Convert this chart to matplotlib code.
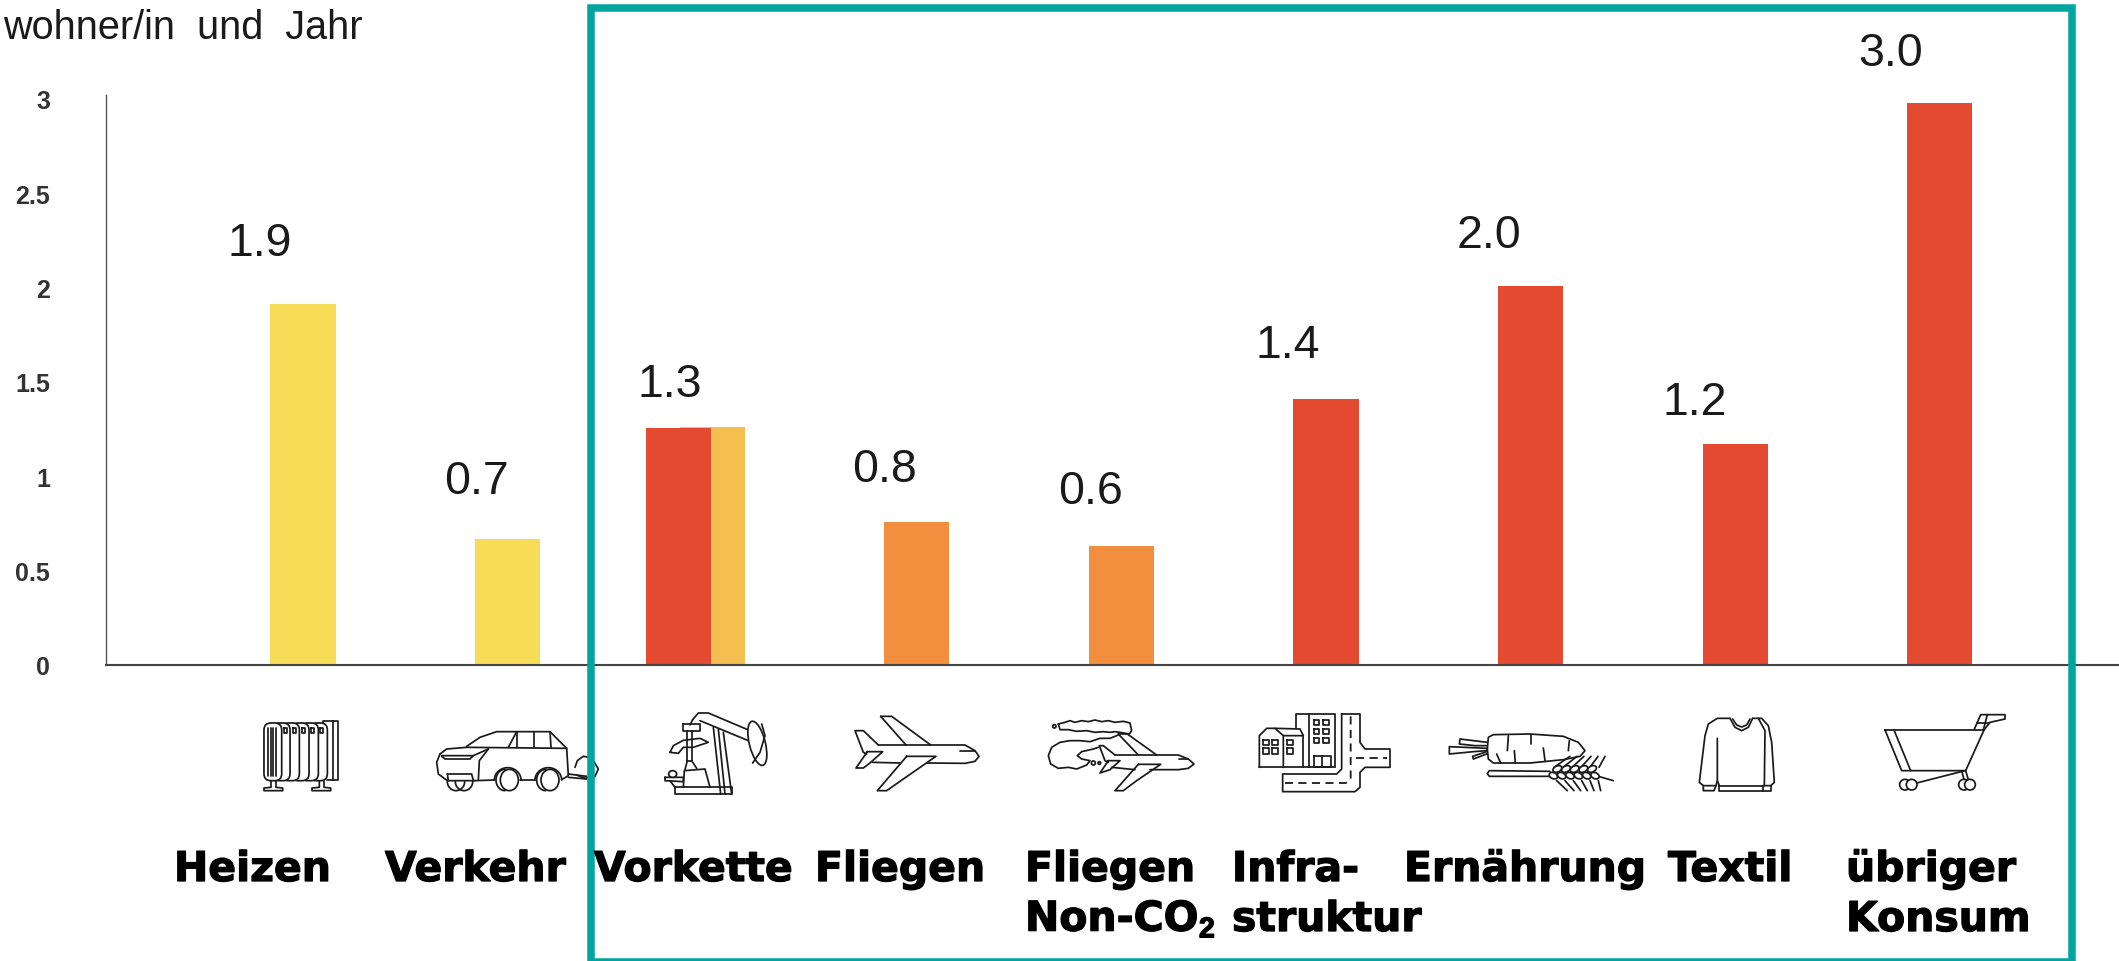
#!/usr/bin/env python3
# -*- coding: utf-8 -*-

import matplotlib
matplotlib.use("Agg")
import matplotlib.patheffects as pe
import matplotlib.pyplot as plt
import numpy as np
from matplotlib.patches import Ellipse, FancyBboxPatch, Rectangle

W, H = 2119, 962

CATEGORIES = ["Heizen", "Verkehr", "Vorkette", "Fliegen", "Fliegen\nNon-CO$_{\\mathbf{2}}$",
              "Infra-\nstruktur", "Ern\u00e4hrung", "Textil", "\u00fcbriger\nKonsum"]
BAR_POS = [0, 1, 2, 1.834, 3, 4, 5, 6, 7, 8]
BAR_VALUES = [1.915, 0.67, 1.262, 1.256, 0.76, 0.63, 1.41, 2.01, 1.17, 2.98]
BAR_COLORS = ["#F6DC57", "#F6DC57", "#F4BE50", "#E34A30", "#F18F3F", "#F18F3F",
              "#E34A30", "#E34A30", "#E34A30", "#E34A30"]
VALUE_LABELS = ["1.9", "0.7", "1.3", "0.8", "0.6", "1.4", "2.0", "1.2", "3.0"]
Y_TICKS = [0, 0.5, 1, 1.5, 2, 2.5, 3]
Y_TICK_LABELS = ["0", "0.5", "1", "1.5", "2", "2.5", "3"]

# placement in reference pixels
VALUE_XY = [(260, 244), (476, 482), (670, 385), (885, 470), (1091, 492),
            (1288, 346), (1489, 236), (1695, 403), (1891, 54)]
LABEL_X = [174, 385, 594, 815, 1025, 1232, 1404, 1668, 1846]

TEAL = "#00A5A0"
INK = "#1a1a1a"


def stroke(ov, x0, lines, lw=1.25, ls="-"):
    # icon points are in 3x crop coordinates, y crop starts at 700
    for pts in lines:
        xs = [x0 + p[0] / 3 for p in pts]
        ys = [700 + p[1] / 3 for p in pts]
        ov.plot(xs, ys, color=INK, lw=lw, ls=ls, solid_capstyle="round", solid_joinstyle="round", zorder=3)


def oval(ov, x0, cx, cy, rx, ry, angle=0, z=3):
    ov.add_patch(Ellipse((x0 + cx / 3, 700 + cy / 3), 2 * rx / 3, 2 * ry / 3, angle=angle,
                         fc="white", ec=INK, lw=1.25, zorder=z))


def arc(cx, cy, rx, ry, t0, t1):
    t = np.radians(np.linspace(t0, t1, 24))
    return list(zip(cx + rx * np.cos(t), cy + ry * np.sin(t)))


def boxes(items, w, h):
    return [[(x, y), (x + w, y), (x + w, y + h), (x, y + h), (x, y)] for x, y in items]


def radiator(ov):
    x0 = 240
    stroke(ov, x0, [[(250, 72), (250, 65), (293, 65), (293, 243), (262, 243)], [(278, 65), (278, 243)]])
    for right in [262, 235, 207, 178, 150, 125]:
        ov.add_patch(FancyBboxPatch((x0 + (right - 45) / 3, 700 + 80 / 3), 37 / 3, 157 / 3,
                                    boxstyle="round,pad=2.7,rounding_size=7", fc="white", ec=INK, lw=1.25, zorder=3))
    stroke(ov, x0, [[(x, 88), (x, 230)] for x in (85, 92, 100, 107)])
    stroke(ov, x0, boxes([(133, 88), (160, 88), (187, 88), (214, 88), (240, 88)], 9, 13))
    stroke(ov, x0, [[(93, 246), (93, 265), (72, 267), (72, 275), (128, 275), (128, 267), (108, 265), (108, 246)],
                    [(238, 246), (238, 265), (216, 267), (216, 275), (272, 275), (272, 267), (252, 265), (252, 246)]])


def car(ov):
    x0 = 240
    cloud = [(1005, 205), (1012, 185), (1030, 172), (1048, 175), (1060, 185), (1075, 210), (1065, 232),
             (1035, 238), (1010, 228)]
    stroke(ov, x0, [cloud, [(985, 225), (1040, 232)], [(985, 235), (1040, 240)]])
    stroke(ov, x0, [
        [(680, 142), (720, 115), (770, 98), (930, 98), (980, 148), (985, 230), (965, 242)],
        [(600, 165), (620, 150), (680, 145), (980, 148)],
        [(600, 165), (590, 190), (595, 225), (622, 245), (705, 245)],
        [(805, 145), (830, 98)], [(832, 98), (832, 145)], [(882, 98), (882, 145)], [(930, 98), (933, 145)],
        [(605, 172), (615, 180), (690, 180), (700, 170), (605, 170)],
        [(700, 170), (745, 150)], [(745, 150), (718, 185), (715, 243)],
        [(622, 225), (695, 225), (700, 245)], [(622, 225), (625, 245)],
        [(840, 243), (885, 243)], [(705, 245), (765, 243)],
    ])
    stroke(ov, x0, [arc(648, 248, 26, 27, 0, 180), arc(672, 248, 26, 27, 0, 180),
                    arc(803, 243, 40, 37, 180, 360), arc(795, 243, 27, 32, 90, 270),
                    arc(925, 243, 40, 37, 180, 360), arc(917, 243, 27, 32, 90, 270)])
    oval(ov, x0, 808, 243, 27, 32)
    oval(ov, x0, 930, 243, 27, 32)


def pumpjack(ov):
    x0 = 650
    stroke(ov, x0, [
        [(190, 85), (212, 285)], [(205, 90), (225, 285)], [(220, 100), (245, 285)],
        [(75, 265), (245, 265), (245, 285), (75, 285), (75, 265)],
        [(100, 265), (103, 215), (165, 210), (180, 265)],
        [(60, 160), (70, 140), (100, 124), (150, 118), (175, 130), (130, 145), (100, 145), (85, 163), (60, 160)],
        [(112, 185), (105, 212)], [(125, 185), (140, 208)],
        [(45, 235), (100, 235), (100, 248), (45, 245), (45, 235)], [(75, 265), (60, 245)],
        [(128, 62), (145, 42), (175, 42), (312, 100)], [(150, 65), (300, 127)], [(128, 62), (120, 78)],
    ])
    oval(ov, x0, 68, 225, 12, 10)
    stroke(ov, x0, boxes([(98, 75)], 52, 20))
    stroke(ov, x0, [[(112, 95), (112, 185)], [(125, 95), (125, 185)], [(112, 185), (125, 185)]])
    oval(ov, x0, 322, 133, 24, 68, angle=-14)
    stroke(ov, x0, [[(335, 75), (345, 110), (330, 160), (308, 192)]])


PLANE = [
    [(685, 138), (945, 138), (975, 155), (987, 172), (975, 187), (945, 193), (830, 192)],
    [(685, 138), (640, 95), (615, 95), (640, 160), (650, 165)],
    [(652, 158), (698, 158), (660, 192), (640, 207), (618, 207), (652, 158)],
    [(668, 190), (750, 192)],
    [(770, 172), (858, 172), (760, 240), (710, 275), (682, 275), (770, 172)],
    [(692, 52), (725, 52), (842, 138)], [(692, 52), (768, 138)],
    [(930, 155), (975, 155)],
]


def plane(ov):
    stroke(ov, 650, PLANE)


def plane_cloud(ov):
    x0 = 1040
    stroke(ov, x0, [
        [(55, 75), (75, 70), (90, 65), (105, 70), (125, 65), (145, 68), (165, 63), (185, 68), (205, 65), (225, 70),
         (250, 67), (270, 72), (275, 95), (268, 105), (240, 100), (225, 98), (210, 100), (190, 98), (165, 100),
         (140, 95), (110, 97), (85, 92), (60, 92), (55, 75)],
        [(235, 108), (210, 118), (180, 118), (150, 128), (120, 125), (90, 125), (60, 130), (35, 145), (25, 170),
         (32, 195), (55, 208), (85, 205), (110, 210), (140, 198), (150, 185), (125, 180), (112, 170), (125, 158),
         (160, 150), (175, 145)],
        [(225, 168), (415, 168), (445, 180), (462, 195), (445, 208), (415, 212), (330, 212)],
        [(225, 168), (190, 140), (178, 140), (195, 185), (205, 190)],
        [(205, 185), (240, 185), (210, 212), (180, 222), (205, 185)],
        [(215, 205), (285, 212)],
        [(295, 196), (362, 196), (290, 245), (250, 275), (225, 275), (295, 196)],
        [(235, 105), (262, 105), (350, 168)], [(235, 105), (295, 168)],
        [(418, 180), (445, 180)],
    ])
    oval(ov, x0, 43, 82, 5, 5)
    oval(ov, x0, 160, 192, 6, 6)
    oval(ov, x0, 178, 192, 4, 4)


def buildings(ov):
    x0 = 1040
    stroke(ov, x0, [
        [(658, 205), (658, 110), (680, 88), (705, 88), (730, 110), (730, 205)],
        [(705, 88), (780, 90), (790, 110), (730, 110)],
        [(658, 205), (885, 205)], [(790, 110), (790, 205)],
        [(768, 88), (768, 45), (885, 45), (885, 205)], [(808, 45), (808, 205)],
        [(847, 172), (847, 205)],
        [(905, 45), (960, 45), (960, 130), (975, 150), (1050, 150), (1050, 205), (975, 205), (960, 220), (960, 265),
         (945, 278), (728, 278), (728, 225), (890, 225), (905, 210), (905, 45)],
    ])
    stroke(ov, x0, boxes([(670, 122), (697, 122), (670, 148), (697, 148), (742, 122), (742, 148),
                          (822, 62), (850, 62), (822, 90), (850, 90), (822, 117), (850, 117)], 16, 16))
    stroke(ov, x0, boxes([(822, 172)], 50, 33))
    stroke(ov, x0, [[(932, 52), (932, 240), (918, 252), (735, 252)], [(948, 177), (1040, 177)]],
           lw=1.3, ls=(0, (4.5, 3)))


def carrot_wheat(ov):
    x0 = 1430
    stroke(ov, x0, [
        [(172, 150), (175, 115), (190, 107), (300, 105), (400, 112), (445, 130), (465, 155), (450, 172),
         (400, 182), (300, 192), (190, 192), (175, 180), (172, 150)],
        [(235, 110), (232, 155)], [(303, 108), (303, 135)], [(340, 147), (345, 185)], [(253, 155), (256, 192)],
        [(200, 165), (212, 192)], [(418, 125), (415, 155)],
        [(172, 130), (90, 120), (88, 135), (135, 140), (170, 140)],
        [(172, 148), (58, 143), (58, 165), (130, 158), (170, 155)],
        [(170, 158), (128, 172), (130, 180), (170, 165)],
        [(360, 217), (178, 215), (172, 224), (178, 232), (360, 232)],
        [(505, 232), (550, 245)],
    ])
    for i in range(6):
        stroke(ov, x0, [[(372 + i * 27, 205), (420 + i * 21, 172)], [(380 + i * 25, 245), (412 + i * 20, 275)]])
    for i in range(5):
        oval(ov, x0, 382 + i * 26, 210, 14, 9, angle=-25)
    for i in range(6):
        oval(ov, x0, 370 + i * 25, 230, 13, 9, angle=25)


def sweater(ov):
    stroke(ov, 1430, [
        [(858, 260), (820, 260), (808, 250), (825, 110), (835, 75), (862, 58), (900, 58)],
        [(900, 58), (915, 85), (935, 95), (955, 85), (968, 58)],
        [(968, 58), (995, 58), (1015, 80), (1025, 130), (1033, 250), (1022, 260), (998, 260)],
        [(908, 60), (920, 78), (935, 84), (950, 78), (960, 60)],
        [(820, 260), (820, 275), (852, 275), (858, 260)],
        [(868, 260), (868, 275), (1022, 275), (1022, 260)], [(868, 260), (1000, 260)], [(998, 260), (998, 275)],
        [(862, 118), (862, 245), (858, 260)], [(868, 260), (862, 245)],
        [(985, 58), (1005, 95), (1003, 260)],
    ])


def cart(ov):
    x0 = 1820
    stroke(ov, x0, [
        [(195, 93), (492, 93), (437, 215), (245, 215), (195, 93)], [(222, 93), (272, 215)],
        [(462, 93), (482, 47), (555, 47), (555, 60), (510, 70), (492, 93)],
        [(472, 72), (508, 72)], [(502, 47), (490, 93)],
        [(290, 252), (435, 215)], [(425, 215), (432, 242)], [(437, 215), (445, 242)],
    ])
    for cx in (255, 275, 432, 450):
        oval(ov, x0, cx, 257, 16, 16)


def main():
    plt.rcParams["font.family"] = ["Liberation Sans", "DejaVu Sans"]
    plt.rcParams["mathtext.fontset"] = "custom"
    plt.rcParams["mathtext.bf"] = "Liberation Sans:bold"

    fig = plt.figure(figsize=(W / 100, H / 100), dpi=100, facecolor="white")

    # bar axes: index i sits at 303 + 204.6 * i px, value v at 666 - 188.7 * v px
    left, right, bottom, top = 105.6, W, 666, 96
    ax = fig.add_axes([left / W, 1 - bottom / H, (right - left) / W, (bottom - top) / H])
    ax.set_xlim((left - 303) / 204.6, (right - 303) / 204.6)
    ax.set_ylim(0, (bottom - top) / 188.7)
    ax.bar(BAR_POS, BAR_VALUES, width=0.318, color=BAR_COLORS, linewidth=0)

    for side in ("top", "right"):
        ax.spines[side].set_visible(False)
    ax.spines["left"].set_color("#555555")
    ax.spines["left"].set_linewidth(1.0)
    ax.spines["bottom"].set_color("#444444")
    ax.spines["bottom"].set_linewidth(1.5)
    ax.set_xticks([])
    ax.set_yticks(Y_TICKS)
    ax.set_yticklabels(Y_TICK_LABELS, fontsize=18, fontweight="bold", color="#333333")
    ax.tick_params(axis="y", length=0, pad=40)

    # overlay in reference pixels for icons, frame and free text
    ov = fig.add_axes([0, 0, 1, 1])
    ov.set_xlim(0, W)
    ov.set_ylim(H, 0)
    ov.axis("off")
    ov.patch.set_alpha(0)

    for draw in (radiator, car, pumpjack, plane, plane_cloud, buildings, carrot_wheat, sweater, cart):
        draw(ov)

    ov.add_patch(Rectangle((590.5, 9), 1481, 954, fill=False, ec=TEAL, lw=5.4, zorder=5, clip_on=True))

    ov.text(3, 39, "wohner/in  und  Jahr", fontsize=28.5, color=INK, ha="left", va="baseline")

    for text, (x, y) in zip(VALUE_LABELS, VALUE_XY):
        ov.text(x, y, text, fontsize=33.5, color=INK, ha="center", va="center")

    heavy = [pe.withStroke(linewidth=0.9, foreground="black")]
    for text, x in zip(CATEGORIES, LABEL_X):
        for j, line in enumerate(text.split("\n")):
            ov.text(x, 882 + 50 * j, line, fontsize=29.5, fontweight="bold", color="black",
                    family="DejaVu Sans", ha="left", va="baseline", zorder=6, path_effects=heavy)

    fig.savefig("out.png", dpi=100, facecolor="white")
    plt.close(fig)


if __name__ == "__main__":
    main()
